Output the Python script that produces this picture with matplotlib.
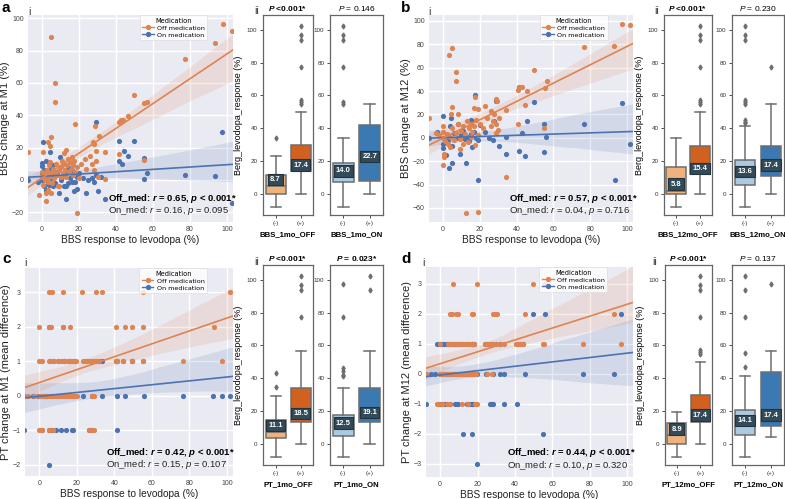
import matplotlib
matplotlib.use("Agg")
import matplotlib.pyplot as plt
from matplotlib.lines import Line2D
import numpy as np
import seaborn as sns

plt.rcParams['font.family'] = ['Liberation Sans', 'DejaVu Sans']
plt.rcParams['mathtext.fontset'] = 'custom'
plt.rcParams['mathtext.rm'] = 'Liberation Sans'
plt.rcParams['mathtext.it'] = 'Liberation Sans:italic'
plt.rcParams['mathtext.bf'] = 'Liberation Sans:bold'
plt.rcParams['mathtext.bfit'] = 'Liberation Sans:bold:italic'

OFF_COLOR = '#dd8452'
ON_COLOR = '#4c72b0'
BOX_COLORS_OFF = ['#f0b27d', '#d2601f']
BOX_COLORS_ON = ['#abc9e0', '#3b79b3']
EDGE = '#6e6e6e'
LABEL_BG = '#324b58'

# ---------------- scatter data (x = BBS response to levodopa, y = change) ----------------
a_off = [(5.1, 88.6), (7.2, 60), (7.2, 48.5), (77.4, 74.8), (97.7, 96.3), (93.7, 84.5), (102.5, 92),
         (49.7, 52.6), (55.3, 47.3), (56.6, 48.1), (46.3, 39.8), (43.9, 37.1), (42.5, 36.9), (41.6, 35.9),
         (28.6, 33.2), (17.7, 34.4), (30.7, 27.2), (5.1, 26.4), (4.5, 21), (3.3, 23.7), (27.7, 23.5),
         (28, 22), (29, 17.7), (33.8, 17.5), (41.4, 16.2), (12.7, 18.7), (11.8, 16.6), (0.4, 17), (-7.5, 17),
         (55.2, 12.1), (19, -20.5), (2.2, -13.1), (-1.6, -9.2), (34.2, 0.3),
         (0, 2), (0, 5), (0.5, -3), (1, 4), (1.5, 0), (2, 3), (2.5, 6), (3, -1), (3.5, 9), (4, 2),
         (4.5, 11), (5, 4), (5.5, -2), (6, 7), (6.5, 1), (7, 5), (7.5, 10), (8, 3), (8.5, -4), (9, 6),
         (10, 2), (10.5, 8), (11, 12), (11.5, 4), (12, 10), (12.5, 6), (13, 2), (13.5, 9), (14, 13), (14.5, 5),
         (15, 11), (15.5, 7), (16, 14), (16.5, 3), (17, 9), (17.5, 12), (18, 5), (19, 8), (20, 1), (21, 10),
         (23, 13), (24, 7), (26, 15), (27, 10), (28, 6), (29, 12), (30, 2), (2, -8), (5, -8), (9, -4), (3, -6)]
a_on = [(29.1, 36.1), (0.3, 23.5), (97.3, 29.5), (41.6, 24.3), (49.5, 23.9), (44.5, 18.1), (46.3, 14.8),
        (41.6, 11.7), (43, 9.8), (55.2, 13.3), (55.2, 0.5), (56.6, 4.4), (77.4, 2.8), (93.7, 2.4),
        (102.8, -14.2), (34.2, -11.7), (30.2, -6.9), (24, -7.8), (19, -5.4), (17.2, -7.1), (12.7, -11.7),
        (4.5, 17), (9.6, 14.5), (0.2, 10.5), (0.2, 8.5), (-7.5, 0), (-2, -1), (0, 0), (1, -4), (2, -6),
        (3, 2), (4, -3), (5, 1), (6, 3), (7, -2), (8, 5), (9, -8), (10, 0), (11, 2), (12, -4), (13, 4),
        (14, -2), (15, 1), (16, 6), (17, 3), (18, -1), (19, 2), (20, 4), (22, 1), (25, 0), (27, 1),
        (28, -1), (29, 3), (32, 2), (3, -2), (6, -4), (13, -4), (14, 8), (16, -1), (1, 6), (5, 7),
        (2, 12), (6, 9), (0, 4)]

b_off = [(3.3, 71.1), (5.1, 76.5), (6.9, 55.9), (6.9, 48.8), (76.9, 78), (93.1, 78.8), (97.3, 97.4),
         (101.6, 96.3), (49.7, 57.6), (56.4, 48.5), (55.3, 42.8), (41.2, 43.3), (43, 43.3), (45.8, 40.2),
         (41, 40.5), (44.5, 28.2), (28.8, 33.3), (29.1, 31.6), (34, 23.6), (30.6, 17), (41, 11.9),
         (5.1, 26.7), (4.3, 20.7), (8.3, 20.7), (16.6, 25.6), (19.3, 24.4), (23.1, 27.3), (26, 23.3),
         (17.4, 35), (-7.5, 17.3), (55, 8.4), (34, -33.7), (12.7, -64.3), (19.3, -63.1), (0, -23.6),
         (0.4, -16.5), (0.4, -13.6), (28.8, 4.4),
         (0, 0), (0, 5), (0, 10), (1, -3), (2, 3), (3, -5), (4, 1), (5, 8), (6, -2), (7, 4), (8, 12),
         (9, -1), (10, 6), (11, 10), (12, 3), (13, 14), (13.5, -4), (14, 8), (15, 12), (15.5, 1), (16, 5),
         (17, 10), (17.5, -6), (18, 15), (19, 2), (20, 12), (22, 8), (24, 17), (26, 10), (27, 14), (28, 20),
         (29, 12), (30, 7), (4, -8), (9, -10), (-2, 2), (-4, 4), (11, -5)]
b_on = [(41.2, 43.3), (17.2, 36.7), (28.9, 31.3), (49.7, 30.2), (97.1, 29.6), (45.8, 14.7), (54.8, 11.9),
        (76.9, 11.9), (56.1, 0.7), (34, 0.7), (42.7, 4.1), (30.4, -6.8), (34, -13.6), (41.2, -11),
        (44.7, -15.6), (55, -12.5), (101.6, -5), (93.3, -36.5), (19.3, -36.2), (12.7, -21.9), (3.1, -25.9),
        (5.1, -21.3), (1.8, -15), (0, 19), (4.3, 17.3), (4, 10), (-7.5, 0), (-3, 5), (0, -5), (0, -9),
        (2, 2), (3, -2), (5, -7), (6, 4), (8, 0), (9, -14), (10, 2), (11, 6), (12, -1), (13, 1), (14, -3),
        (15, 3), (16, -8), (17, 5), (18, 0), (19, -2), (20, 11), (23, 5), (25, 0), (27, -2), (28, 14),
        (8, 12), (15, 15)]

# PT change is a whole-number difference: x positions listed per level
c_off_by_level = {
    3: [5, 6.6, 12.4, 22.7, 30.2, 33.2, 55.4, 101.6],
    2: [0, 5, 6, 12.4, 16.2, 40.9, 45.5, 49.4, 55.1, 93.3],
    1: [0, 1.4, 5, 5.7, 7.1, 7.6, 9.8, 11.5, 13, 14.2, 15.6, 16.3, 17.4, 18.6, 19.5, 23.4, 24.9, 26.6,
        27.5, 29, 30.2, 31.6, 40.9, 41.7, 44.8, 49.7, 55.1, 76.4, 97.2],
    0: [-8, -6, -3, 0, 1, 2, 2.5, 3, 4, 5, 6, 7, 8, 9, 10, 11, 11.5, 12, 13, 13.5, 14, 15, 16, 16.5,
        17, 18, 18.5, 19, 20, 28, 29],
    -1: [0, 1.4, 5, 7.1, 26.6, 28, 29],
}
c_on_by_level = {
    2: [5.3, 12.4],
    1: [7.5, 9.8, 13, 15.6, 16.3, 18.6, 24.9, 29, 30.2, 31.6, 33.7, 40.9, 41.7, 44.8, 49.4, 49.7, 55.1],
    0: [-8, -3.5, -0.5, 3.5, 7, 10, 14, 17.8, 23.4, 28, 33.2, 41.7, 45.8, 55.9, 76.4, 92.9, 97.2, 101.6],
    -1: [-8, 1.4, 5, 6.7, 8.9, 11.5, 14.2, 17.4, 18.1, 26.3, 27.7, 41.2],
    -2: [5],
}
d_off_by_level = {
    3: [7.1, 19.5, 49.6, 56.1],
    2: [5.3, 6.2, 8.5, 9.7, 16.8, 17.7, 28.3, 29.2, 30.4, 45.7, 92.9],
    1: [0, 4.4, 5.3, 7.1, 8, 8.8, 9.7, 10.6, 12.4, 13.3, 14.2, 15, 15.9, 16.8, 17.3, 18, 23.9, 25.1,
        26.5, 27.4, 28.3, 30.1, 31.9, 34, 40.7, 41.6, 42.8, 43.9, 44.6, 54.9, 55.4, 76.6, 96.8],
    0: [-7.4, 0, 1, 2, 3.5, 4.4, 5.3, 7, 8, 9, 10, 11, 12, 13, 14, 15, 16, 17, 18, 19, 25, 28],
    -1: [-1.8, -0.9, 0.9, 3.5, 5.3, 11.5, 15, 18.6, 19.5],
}
d_on_by_level = {
    2: [49.6, 56.1, 96.8],
    1: [-1.8, 0, 1, 2, 3.5, 4.4, 5.3, 7.1, 8, 8.8, 9.7, 10.6, 12.4, 13.3, 14.2, 15, 16.8, 17.3, 18,
        23.9, 25.1, 26.5, 27.4, 28.3, 30.1, 31.9, 42.8, 44.6],
    0: [-7.4, -5, -3, 0, 1, 2, 3.5, 4.4, 5.3, 7, 8, 9, 10, 11, 12.4, 13, 14.2, 15.9, 16, 17, 18, 19.5,
        24.8, 28.3, 31.9, 34, 45.7, 76.6, 92.9],
    -1: [-7.4, 0, 0.9, 2.7, 5.3, 8, 8.8, 9.7, 14.2, 15, 15.9, 16.8, 17.7, 26.9, 28, 28.3, 34, 41],
    -2: [12.4, 16.8, 55.2],
    -3: [19.5],
}

# correlation annotations: r_off, p_off, r_on, p_on
a_corr = ('0.65', '< 0.001*', '0.16', '= 0.095')
b_corr = ('0.57', '< 0.001*', '0.04', '= 0.716')
c_corr = ('0.42', '< 0.001*', '0.15', '= 0.107')
d_corr = ('0.44', '< 0.001*', '0.10', '= 0.320')

# ---------------- box data: Berg levodopa response (%) ----------------
box_labels = ['(-)', '(+)']
# each box: whislo, q1, median, q3, whishi
a_off_stats = [[-8, 0, 4.5, 11.5, 23], [0, 14, 19, 30, 50]]
a_off_fliers = [[34], [55, 56, 57, 77, 93.5, 97, 102.5]]
a_off_means = [8.7, 17.4]
a_on_stats = [[-8, 7, 10, 19, 34], [0, 8, 20, 42, 55]]
a_on_fliers = [[55, 56, 77, 93.5, 97, 102.5], []]
a_on_means = [14.0, 22.7]

b_off_stats = [[-8, 0, 1.5, 16.5, 34], [0, 12, 17, 29, 50]]
b_off_fliers = [[], [55, 56, 57, 77, 93.5, 97, 102.5]]
b_off_means = [5.8, 15.4]
b_on_stats = [[-8, 5.5, 12, 20.5, 41.5], [0, 10.5, 16, 29, 55]]
b_on_fliers = [[43, 44, 45, 55, 56, 57, 93.5, 97, 102.5], [77]]
b_on_means = [13.6, 17.4]

c_off_stats = [[-8, 3.5, 7, 14.5, 29], [0, 13, 19, 34, 56.5]]
c_off_fliers = [[34.5, 43], [77, 93.5, 97, 102.5]]
c_off_means = [11.1, 18.5]
c_on_stats = [[-8, 4.5, 10, 17.5, 34], [0, 13, 19, 34, 56.5]]
c_on_fliers = [[41, 42, 44.5, 46, 77, 97.5], [93.5, 102.5]]
c_on_means = [12.5, 19.1]

d_off_stats = [[-8, 0, 5, 12.5, 19.5], [0, 13, 15, 30, 50]]
d_off_fliers = [[], [55, 56, 57, 77, 93.5, 97, 102.5]]
d_off_means = [8.9, 17.4]
d_on_stats = [[-8, 5, 12, 20.5, 41.5], [4, 10.5, 16, 44, 56.5]]
d_on_fliers = [[46.5, 55.5, 77, 93.5, 102.5], [97.5]]
d_on_means = [14.1, 17.4]

W, H = 785, 499
fig = plt.figure(figsize=(W / 100, H / 100), dpi=100)


def px_axes(left, top, right, bottom):
    return fig.add_axes([left / W, 1 - bottom / H, (right - left) / W, (bottom - top) / H])


def levels_to_xy(by_level):
    xs, ys = [], []
    for level, xvals in by_level.items():
        xs += xvals
        ys += [level] * len(xvals)
    return np.array(xs, float), np.array(ys, float)


def scatter_panel(ax, off_xy, on_xy, ylabel, ylabel_size, yticks, ylim, corr):
    ax.set_facecolor('#eaeaf2')
    ax.set_xlim(-7.6, 103.3)
    ax.set_ylim(*ylim)
    for (x, y), color in [(on_xy, ON_COLOR), (off_xy, OFF_COLOR)]:
        sns.regplot(x=x, y=y, ax=ax, color=color, truncate=False, seed=0,
                    scatter_kws=dict(s=14, alpha=1, linewidths=0, zorder=3),
                    line_kws=dict(lw=1.2, zorder=4))
    ax.set_xlim(-7.6, 103.3)
    ax.set_ylim(*ylim)
    ax.set_xticks([0, 20, 40, 60, 80, 100])
    ax.set_yticks(yticks)
    ax.grid(True, color='white', lw=1.0)
    ax.set_axisbelow(True)
    for s in ax.spines.values():
        s.set_visible(False)
    ax.tick_params(length=0, labelsize=5, colors='#444444', pad=3)
    ax.set_xlabel('BBS response to levodopa (%)', fontsize=7.3, color='#222222', labelpad=1.5)
    ax.set_ylabel(ylabel, fontsize=ylabel_size, color='#222222', labelpad=1)
    r_off, p_off, r_on, p_on = corr
    ax.text(0.39, 0.115, r'Off_med: $\mathbfit{r}$ = %s, $\mathbfit{p}$ %s' % (r_off, p_off),
            transform=ax.transAxes, fontsize=6.8, fontweight='bold', va='center', ha='left', zorder=6)
    ax.text(0.39, 0.057, r'On_med: $\mathit{r}$ = %s, $\mathit{p}$ %s' % (r_on, p_on),
            transform=ax.transAxes, fontsize=6.8, va='center', ha='left', color='#222222', zorder=6)
    handles = [Line2D([0], [0], color=OFF_COLOR, marker='o', ms=2.8, lw=1.0, label='Off medication'),
               Line2D([0], [0], color=ON_COLOR, marker='o', ms=2.8, lw=1.0, label='On medication')]
    leg = ax.legend(handles=handles, title='Medication', loc='upper right', bbox_to_anchor=(0.875, 1.0),
                    borderaxespad=0, prop=dict(family='DejaVu Sans', size=4.6),
                    title_fontproperties=dict(family='DejaVu Sans', size=4.8),
                    frameon=True, borderpad=0.4, handlelength=1.8, handletextpad=0.5, labelspacing=0.25)
    leg.get_frame().set_facecolor('white')
    leg.get_frame().set_edgecolor('#dddddd')
    leg.get_frame().set_linewidth(0.6)
    leg.set_zorder(7)


def box_panel(ax, stats, fliers, means, colors, xlabel, title, bold_title, ylabel=None):
    items = []
    for s, f, lab in zip(stats, fliers, box_labels):
        items.append(dict(whislo=s[0], q1=s[1], med=s[2], q3=s[3], whishi=s[4], fliers=f, label=lab))
    art = ax.bxp(items, positions=[0, 1], widths=0.8, capwidths=0.4, patch_artist=True,
                 boxprops=dict(edgecolor=EDGE, lw=1.1),
                 whiskerprops=dict(color=EDGE, lw=1.1), capprops=dict(color=EDGE, lw=1.1),
                 medianprops=dict(color=EDGE, lw=1.1),
                 flierprops=dict(marker='d', mfc=EDGE, mec=EDGE, ms=2.5))
    for patch, c in zip(art['boxes'], colors):
        patch.set_facecolor(c)
    for xpos, m in zip([0, 1], means):
        ax.text(xpos, m, '%.1f' % m, ha='center', va='center', color='white', fontsize=5.5,
                fontweight='bold', zorder=5,
                bbox=dict(boxstyle='square,pad=0.3', fc=LABEL_BG, ec='#25343c', lw=0.8))
    ax.set_xlim(-0.5, 1.5)
    ax.set_ylim(-13, 109)
    ax.set_yticks([0, 20, 40, 60, 80, 100])
    ax.set_facecolor('white')
    for s in ax.spines.values():
        s.set_color('#666666')
        s.set_linewidth(0.9)
    ax.tick_params(labelsize=4.5, colors='#333333', length=2, width=0.6, pad=2)
    ax.set_xlabel(xlabel, fontsize=5.6, fontweight='bold', labelpad=4)
    if ylabel:
        ax.set_ylabel(ylabel, fontsize=6.5, labelpad=3)
    ax.set_title(title, fontsize=6, pad=3, fontweight='bold' if bold_title else 'normal')


# ---------------- panels ----------------
ax = px_axes(28, 15, 233, 222)
scatter_panel(ax, np.array(a_off, float).T, np.array(a_on, float).T, 'BBS change at M1 (%)', 8,
              [-20, 0, 20, 40, 60, 80, 100], (-26, 102), a_corr)
ax = px_axes(263, 15, 313, 215)
box_panel(ax, a_off_stats, a_off_fliers, a_off_means, BOX_COLORS_OFF, 'BBS_1mo_OFF',
          r'$\mathbfit{P}$ <0.001*', True, 'Berg_levodopa_response (%)')
ax = px_axes(330, 15, 383, 215)
box_panel(ax, a_on_stats, a_on_fliers, a_on_means, BOX_COLORS_ON, 'BBS_1mo_ON', r'$\mathit{P}$ = 0.146', False)

ax = px_axes(429, 15, 633, 222)
scatter_panel(ax, np.array(b_off, float).T, np.array(b_on, float).T, 'BBS change at M12 (%)', 8,
              [-60, -40, -20, 0, 20, 40, 60, 80, 100], (-72, 105), b_corr)
ax = px_axes(664, 15, 712, 215)
box_panel(ax, b_off_stats, b_off_fliers, b_off_means, BOX_COLORS_OFF, 'BBS_12mo_OFF',
          r'$\mathbfit{P}$ <0.001*', True, 'Berg_levodopa_response (%)')
ax = px_axes(732, 15, 784, 215)
box_panel(ax, b_on_stats, b_on_fliers, b_on_means, BOX_COLORS_ON, 'BBS_12mo_ON', r'$\mathit{P}$ = 0.230', False)

ax = px_axes(25, 268, 233, 476)
scatter_panel(ax, levels_to_xy(c_off_by_level), levels_to_xy(c_on_by_level),
              'PT change at M1 (mean difference)', 8, [-2, -1, 0, 1, 2, 3], (-2.32, 3.71), c_corr)
ax = px_axes(263, 265, 313, 465)
box_panel(ax, c_off_stats, c_off_fliers, c_off_means, BOX_COLORS_OFF, 'PT_1mo_OFF',
          r'$\mathbfit{P}$ <0.001*', True, 'Berg_levodopa_response (%)')
ax = px_axes(330, 265, 383, 465)
box_panel(ax, c_on_stats, c_on_fliers, c_on_means, BOX_COLORS_ON, 'PT_1mo_ON', r'$\mathbfit{P}$ = 0.023*', True)

ax = px_axes(426, 267, 633, 477)
scatter_panel(ax, levels_to_xy(d_off_by_level), levels_to_xy(d_on_by_level),
              'PT change at M12 (mean difference)', 8, [-3, -2, -1, 0, 1, 2, 3], (-3.45, 3.55), d_corr)
ax = px_axes(665, 265, 712, 465)
box_panel(ax, d_off_stats, d_off_fliers, d_off_means, BOX_COLORS_OFF, 'PT_12mo_OFF',
          r'$\mathbfit{P}$ <0.001*', True, 'Berg_levodopa_response (%)')
ax = px_axes(732, 265, 784, 465)
box_panel(ax, d_on_stats, d_on_fliers, d_on_means, BOX_COLORS_ON, 'PT_12mo_ON', r'$\mathit{P}$ = 0.137', False)

# panel letters and sub-panel numerals
for letter, x, y in [('a', 2, 8), ('b', 401, 8), ('c', 2, 259), ('d', 401, 259)]:
    fig.text(x / W, 1 - y / H, letter, fontsize=11, fontweight='bold', va='center', ha='left')
for x, y in [(29, 12), (429, 12), (25, 263), (423, 263)]:
    fig.text(x / W, 1 - y / H, 'i', fontsize=7.5, va='center', ha='center', color='#333333')
for x, y in [(257, 11), (657, 11), (257, 262), (655, 262)]:
    fig.text(x / W, 1 - y / H, 'ii', fontsize=7.5, va='center', ha='center', color='#333333')

fig.savefig('out.png', dpi=100, facecolor='white')
